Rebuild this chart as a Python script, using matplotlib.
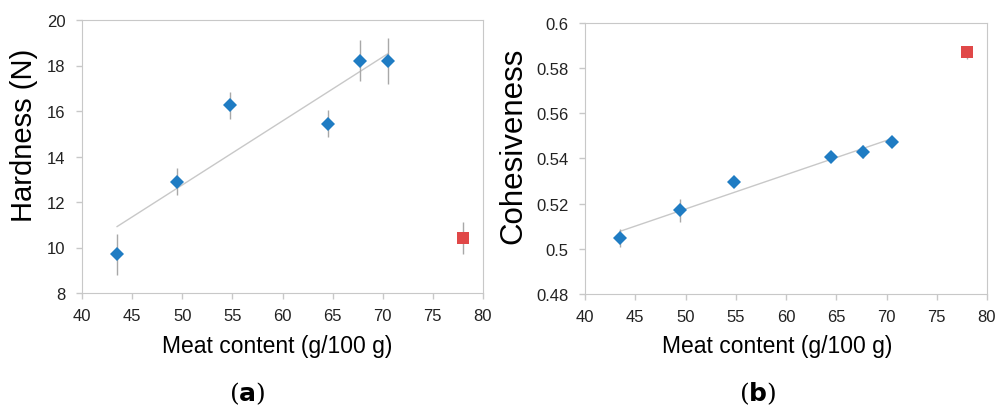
import numpy as np
import matplotlib.pyplot as plt

# meat content of the samples (g/100 g)
meat = [43.5, 49.5, 54.8, 64.5, 67.7, 70.5]
hardness = [9.7, 12.9, 16.25, 15.45, 18.2, 18.2]
hardness_err = [0.9, 0.6, 0.6, 0.6, 0.9, 1.0]
cohesiveness = [0.505, 0.517, 0.5295, 0.5405, 0.543, 0.5475]
cohesiveness_err = [0.004, 0.005, 0.002, 0.001, 0.003, 0.001]

# reference sample (red square)
ref_meat = [78.0]
ref_hardness = [10.4]
ref_hardness_err = [0.7]
ref_cohesiveness = [0.587]
ref_cohesiveness_err = [0.003]

blue = '#1f7cc3'
red = '#e04848'

plt.rcParams['font.family'] = ['Liberation Sans', 'DejaVu Sans']

fig = plt.figure(figsize=(9.98, 4.06), dpi=100)
ax1 = fig.add_axes([82 / 998, 1 - 294 / 406, 401 / 998, 273 / 406])
ax2 = fig.add_axes([585 / 998, 1 - 295 / 406, 402 / 998, 271 / 406])


def panel(ax, y, yerr, ry, ryerr, ylim, yticks, ylabel, fmt, ysize, ylab_xy, xlab_xy):
    ax.errorbar(meat, y, yerr=yerr, fmt='none', ecolor='#a8a8a8', elinewidth=1, capsize=0, zorder=2)
    ax.errorbar(ref_meat, ry, yerr=ryerr, fmt='none', ecolor='#a8a8a8', elinewidth=1, capsize=0, zorder=2)
    # linear trendline over the meat samples
    k, b = np.polyfit(meat, y, 1)
    xs = np.array([min(meat), max(meat)])
    ax.plot(xs, k * xs + b, color='#c8c8c8', lw=1, zorder=1)
    ax.plot(meat, y, 'D', color=blue, ms=7.5, mew=0, zorder=3)
    ax.plot(ref_meat, ry, 's', color=red, ms=8, mew=0, zorder=3)
    ax.set_xlim(40, 80)
    ax.set_xticks(range(40, 81, 5))
    ax.set_ylim(*ylim)
    ax.set_yticks(yticks)
    ax.set_yticklabels([fmt(v) for v in yticks])
    for s in ax.spines.values():
        s.set_color('#c8c8c8')
    ax.tick_params(colors='#c8c8c8', labelcolor='#222222', labelsize=12, length=4, width=1)
    ax.tick_params(axis='y', pad=8)
    ax.tick_params(axis='x', pad=7)
    ax.set_xlabel('Meat content (g/100 g)', fontsize=16.5)
    ax.set_ylabel(ylabel, fontsize=ysize)
    ax.yaxis.set_label_coords(*ylab_xy)
    ax.xaxis.set_label_coords(*xlab_xy)


panel(ax1, hardness, hardness_err, ref_hardness, ref_hardness_err,
      (8, 20), [8, 10, 12, 14, 16, 18, 20], 'Hardness (N)', lambda v: '%d' % v,
      21, (-0.11, 0.58), (0.486, -0.15))
panel(ax2, cohesiveness, cohesiveness_err, ref_cohesiveness, ref_cohesiveness_err,
      (0.48, 0.6), [0.48, 0.5, 0.52, 0.54, 0.56, 0.58, 0.6], 'Cohesiveness',
      lambda v: ('%.2f' % v).rstrip('0').rstrip('.'),
      22.5, (-0.14, 0.55), (0.478, -0.148))

fig.text(247 / 998, 1 - 394 / 406, r'($\mathbf{a}$)', ha='center', va='center',
         fontsize=18, family='DejaVu Serif')
fig.text(758 / 998, 1 - 394 / 406, r'($\mathbf{b}$)', ha='center', va='center',
         fontsize=18, family='DejaVu Serif')

fig.savefig('out.png', dpi=100)
